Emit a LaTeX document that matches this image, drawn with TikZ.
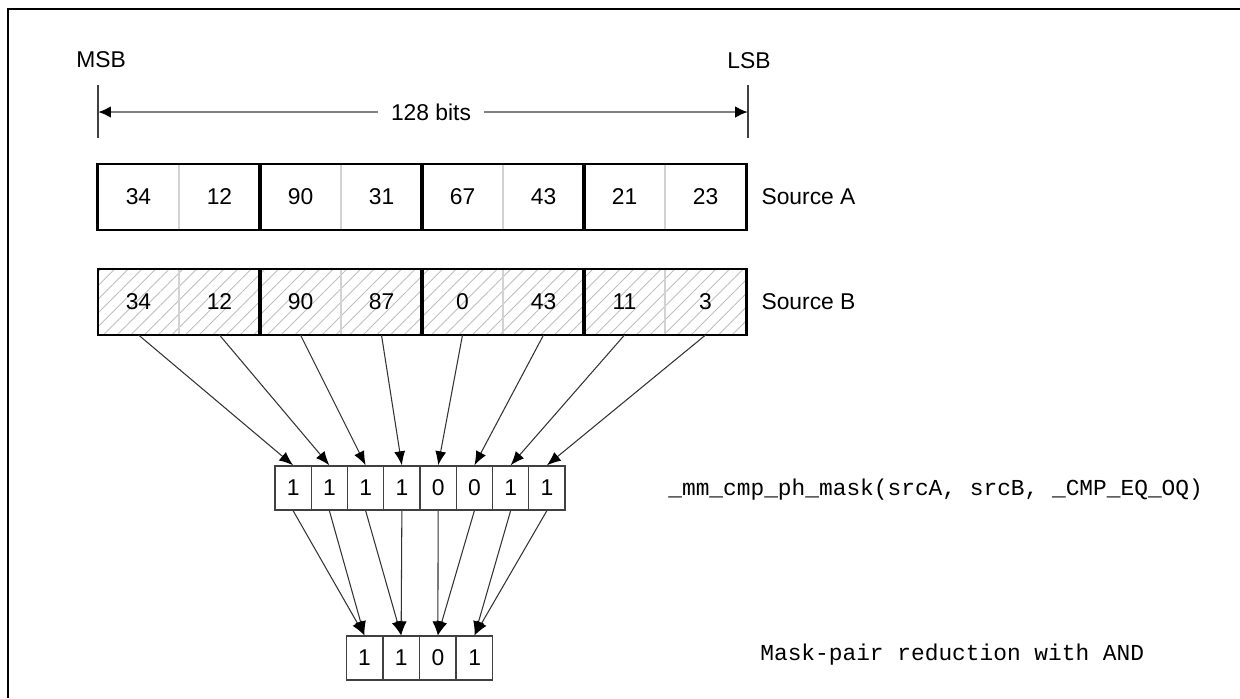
\documentclass[tikz,border=0pt]{standalone}
\usepackage{fontspec}
\setmainfont{Liberation Sans}
\setmonofont{Liberation Mono}
\usetikzlibrary{positioning,arrows.meta,patterns.meta}

\begin{document}
\begin{tikzpicture}[
    x=0.02cm, y=-0.02cm,
    font=\fontsize{13}{15}\selectfont,
    cell/.style={draw=gray!35, line width=0.6pt, minimum width=1.62cm, minimum height=1.3cm, inner sep=0pt},
    hatched/.style={cell, pattern={Lines[angle=45, distance=5.5pt, line width=0.5pt]}, pattern color=gray!50},
    pairbox/.style={draw=black, line width=1.2pt},
    bit/.style={draw=black!75, line width=0.8pt, minimum width=0.725cm, minimum height=0.88cm, inner sep=0pt},
    link/.style={black!80, line width=0.6pt, -{Latex[length=2.8mm, width=2.2mm, color=black]}},
    dimline/.style={gray, line width=1.5pt, -{Latex[length=2.6mm, width=2.4mm, color=black]}},
    tickline/.style={black!75, line width=1pt}
]

    \useasboundingbox (0,0) rectangle (1240,698);

    % Frame
    \draw[line width=1.2pt] (8,698) -- (8,9) -- (1240,9);

    % Coordinates
    \coordinate (msbtop) at (98,85);
    \coordinate (msbmid) at (98,112);
    \coordinate (msbbot) at (98,138);
    \coordinate (lsbtop) at (748,85);
    \coordinate (lsbmid) at (748,112);
    \coordinate (lsbbot) at (748,138);

    % Width of the register
    \node (msb) at (101,60) {MSB};
    \node (lsb) at (749,61) {LSB};
    \draw[tickline] (msbtop) -- (msbbot);
    \draw[tickline] (lsbtop) -- (lsbbot);
    \node[inner xsep=7pt] (bits) at (431,112) {128 bits};
    \draw[dimline] (bits) -- (msbmid);
    \draw[dimline] (bits) -- (lsbmid);

    % Source registers
    \foreach \v [count=\i] in {34,12,90,31,67,43,21,23}
        \node[cell] (a\i) at ({98+81*(\i-0.5)},197) {\v};
    \foreach \v [count=\i] in {34,12,90,87,0,43,11,3}
        \node[hatched] (b\i) at ({98+81*(\i-0.5)},302) {\v};
    \foreach \i/\j in {1/2,3/4,5/6,7/8} {
        \draw[pairbox] (a\i.north west) rectangle (a\j.south east);
        \draw[pairbox] (b\i.north west) rectangle (b\j.south east);
    }
    \node[right=5pt of a8] (srcA) {Source A};
    \node[right=5pt of b8] (srcB) {Source B};

    % Compare mask and reduced mask
    \foreach \v [count=\i] in {1,1,1,1,0,0,1,1}
        \node[bit] (m\i) at ({275+36.25*(\i-0.5)},488) {\v};
    \foreach \v [count=\i] in {1,1,0,1}
        \node[bit] (r\i) at ({346+36.75*(\i-0.5)},658) {\v};

    \foreach \i in {1,...,8} {
        \pgfmathtruncatemacro\k{(\i+1)/2}
        \draw[link] (b\i.south) -- (m\i.north);
        \draw[link] (m\i.south) -- (r\k.north);
    }

    % Captions
    \node[anchor=west, inner sep=0pt, font=\ttfamily\fontsize{13}{15}\selectfont] (cmp) at (668,490)
        {\_mm\_cmp\_ph\_mask(srcA, srcB, \_CMP\_EQ\_OQ)};
    \node[anchor=west, inner sep=0pt, font=\ttfamily\fontsize{13}{15}\selectfont] (red) at (760,655)
        {Mask-pair reduction with AND};

\end{tikzpicture}
\end{document}
